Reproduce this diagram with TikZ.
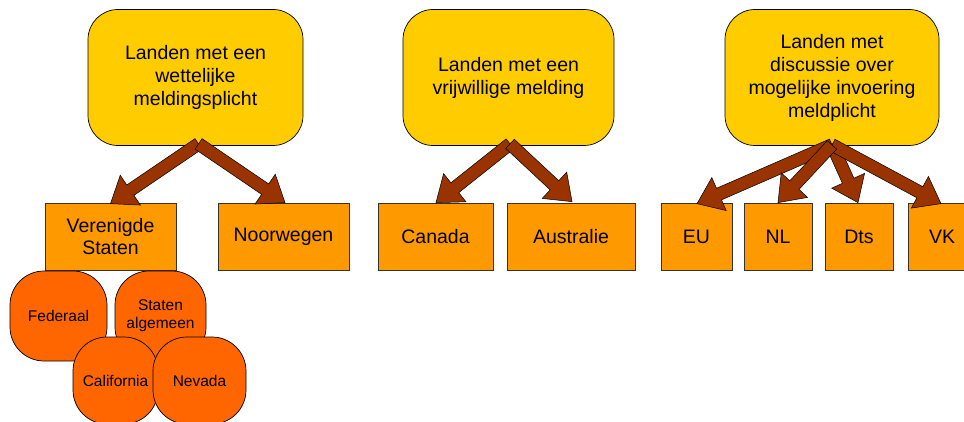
\documentclass[tikz,border=0pt]{standalone}
\usepackage{fontspec}
\setmainfont{Liberation Sans}
\usetikzlibrary{calc}
\definecolor{topY}{HTML}{FFCC00}
\definecolor{boxO}{HTML}{FF9900}
\definecolor{circO}{HTML}{FF6600}
\definecolor{arrB}{HTML}{993300}
\tikzset{
  topbox/.style={draw=black, line width=0.7pt, fill=topY, rounded corners=30pt,
    align=center, font=\fontsize{19.5}{23}\selectfont, inner sep=0pt},
  subbox/.style={draw=black!80, line width=0.7pt, fill=boxO, align=center,
    font=\fontsize{19.5}{22}\selectfont, inner sep=0pt, minimum height=67pt},
  roundbox/.style={draw=black, line width=0.7pt, fill=circO, rounded corners=34pt,
    align=center, font=\fontsize{15.5}{18}\selectfont, inner sep=0pt},
  arrowfill/.style={fill=arrB, draw=black, line width=0.5pt, line join=miter}
}
\newcommand{\blockarrow}[2]{%
  \coordinate (ba-h) at ($(#2)!24pt!(#1)$);
  \filldraw[arrowfill] ($(#1)!6.3pt!90:(#2)$) -- ($(ba-h)!6.3pt!-90:(#1)$)
    -- ($(ba-h)!18pt!-90:(#1)$) -- (#2) -- ($(ba-h)!18pt!90:(#1)$)
    -- ($(ba-h)!6.3pt!90:(#1)$) -- ($(#1)!6.3pt!-90:(#2)$) -- cycle;}
\begin{document}
\begin{tikzpicture}[x=1pt, y=-1pt]
\useasboundingbox (0,0) rectangle (964,422);
\begin{scope}
\clip (0,0) rectangle (964,422);
% top boxes
\node[topbox, minimum width=215pt, minimum height=136pt] (b1) at (195.5,77.5)
  {Landen met een\\wettelijke\\meldingsplicht};
\node[topbox, minimum width=211pt, minimum height=136pt] (b2) at (508.5,77.5)
  {Landen met een\\vrijwillige melding};
\node[topbox, minimum width=214pt, minimum height=136pt] (b3) at (832,77.5)
  {Landen met\\discussie over\\mogelijke invoering\\meldplicht};
% sub boxes
\node[subbox, minimum width=131pt] (vs) at (110.5,236.5) {Verenigde\\Staten};
\node[subbox, minimum width=131pt] (no) at (283.5,236.5) {Noorwegen};
\node[subbox, minimum width=115pt] (ca) at (435.5,236.5) {Canada};
\node[subbox, minimum width=128pt] (au) at (571,236.5) {Australie};
\node[subbox, minimum width=71pt] (eu) at (696.5,236.5) {EU};
\node[subbox, minimum width=68pt] (nl) at (778,236.5) {NL};
\node[subbox, minimum width=68pt] (dts) at (859,236.5) {Dts};
\node[subbox, minimum width=68pt] (vk) at (942,236.5) {VK};
% rounded sub-items
\node[roundbox, minimum width=97pt, minimum height=90pt] (fed) at (58.5,316) {Federaal};
\node[roundbox, minimum width=91pt, minimum height=90pt] (sta) at (160.5,316) {Staten\\algemeen};
\node[roundbox, minimum width=85pt, minimum height=87pt] (cal) at (115.5,380.5) {California};
\node[roundbox, minimum width=93pt, minimum height=87pt] (nev) at (199.5,380.5) {Nevada};
% arrow coordinates
\coordinate (t1) at ($(b1.south)+(3,-2)$);
\coordinate (t2) at ($(b2.south)+(1.5,-2)$);
\coordinate (t3) at ($(b3.south)+(0,-1)$);
\coordinate (pvs) at ($(vs.north)+(0,1)$);
\coordinate (pno) at ($(no.north)+(1.5,0)$);
\coordinate (pca) at ($(ca.north)+(0.5,0)$);
\coordinate (pau) at ($(au.north)+(1,-1)$);
\coordinate (peu) at ($(eu.north)+(0.5,1)$);
\coordinate (pnl) at (nl.north);
\coordinate (pdts) at ($(dts.north)+(-1,0)$);
\coordinate (pvk) at ($(vk.north)+(-1,1)$);
% arrows
\blockarrow{t1}{pvs}
\blockarrow{t1}{pno}
\blockarrow{t2}{pca}
\blockarrow{t2}{pau}
\blockarrow{t3}{peu}
\blockarrow{t3}{pdts}
\blockarrow{t3}{pvk}
\blockarrow{t3}{pnl}
\end{scope}
\end{tikzpicture}
\end{document}
